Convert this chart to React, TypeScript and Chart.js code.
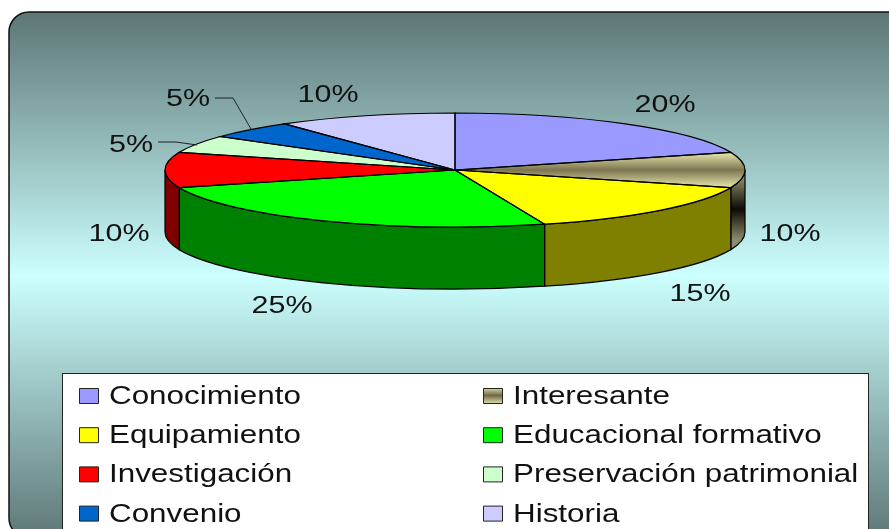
import React, { useEffect, useRef } from "react";
import { Chart, registerables } from "chart.js";

Chart.register(...registerables);

const categories = [
  "Conocimiento",
  "Interesante",
  "Equipamiento",
  "Educacional formativo",
  "Investigación",
  "Preservación patrimonial",
  "Convenio",
  "Historia",
];
const percentages = [20, 10, 15, 25, 10, 5, 5, 10];
const topColors = ["#9999ff", "#a8a070", "#ffff00", "#00ff00", "#ff0000", "#ccffcc", "#0066cc", "#ccccff"];
const sideColors = ["#4d4d80", "#808060", "#808000", "#008000", "#800000", "#668066", "#003366", "#666680"];
// order in which the legend is read: left column then right column, row by row
const legendRows = [
  [0, 1],
  [2, 3],
  [4, 5],
  [6, 7],
];

const W = 889;
const H = 529;
const PIE = { cx: 455, cy: 170, rx: 290, ry: 57, depth: 62 };
const LABEL_STRETCH = 1.27;
const LEGEND_STRETCH = 1.255;
const FONT = '"Liberation Sans", Arial, sans-serif';

// centre of each percentage label on the page, one per slice
const labelCentres = [
  [665, 105],
  [790, 234],
  [700, 294],
  [282, 306],
  [119, 234],
  [131, 145],
  [188, 99],
  [328, 95],
];
const leaders: Record<number, number[][]> = {
  5: [[158, 142], [176, 142], [197, 145]],
  6: [[215, 98], [233, 98], [251, 129]],
};

function stretchedText(ctx: CanvasRenderingContext2D, text: string, x: number, y: number, size: number, stretch: number, align: CanvasTextAlign, baseline: CanvasTextBaseline) {
  ctx.save();
  ctx.translate(x, y);
  ctx.scale(stretch, 1);
  ctx.font = `${size}px ${FONT}`;
  ctx.fillStyle = "#111111";
  ctx.textAlign = align;
  ctx.textBaseline = baseline;
  ctx.fillText(text, 0, 0);
  ctx.restore();
}

function bandGradient(ctx: CanvasRenderingContext2D, y0: number, y1: number, edge: string, mid: string) {
  const g = ctx.createLinearGradient(0, y0, 0, y1);
  g.addColorStop(0, edge);
  g.addColorStop(0.5, mid);
  g.addColorStop(1, edge);
  return g;
}

const pie3d = {
  id: "pie3d",
  beforeDraw(chart: any) {
    const ctx: CanvasRenderingContext2D = chart.ctx;
    ctx.save();
    const g = ctx.createLinearGradient(0, 12, 0, 540);
    g.addColorStop(0, "#5d7675");
    g.addColorStop(0.5, "#ccffff");
    g.addColorStop(1, "#5d7675");
    ctx.beginPath();
    ctx.roundRect(9, 12, 900, 526, 20);
    ctx.fillStyle = g;
    ctx.fill();
    ctx.strokeStyle = "#111111";
    ctx.lineWidth = 1.5;
    ctx.stroke();
    ctx.restore();
  },
  beforeDatasetDraw(chart: any) {
    const ctx: CanvasRenderingContext2D = chart.ctx;
    const arcs = chart.getDatasetMeta(0).data;
    const { rx, ry, depth } = PIE;
    const { x: cx, y: cy, outerRadius: r } = arcs[0];
    // side walls, only the front half of the ellipse shows them
    ctx.save();
    ctx.lineWidth = 1.2;
    ctx.strokeStyle = "#000000";
    arcs.forEach((arc: any, i: number) => {
      const a = Math.max(arc.startAngle, 0);
      const b = Math.min(arc.endAngle, Math.PI);
      if (b <= a) return;
      ctx.beginPath();
      ctx.ellipse(cx, cy, rx, ry, 0, a, b);
      ctx.ellipse(cx, cy + depth, rx, ry, 0, b, a, true);
      ctx.closePath();
      ctx.fillStyle = i === 1 ? bandGradient(ctx, cy + 8, cy + depth + 8, "#8c8c6c", "#0c0a04") : sideColors[i];
      ctx.fill();
      ctx.stroke();
    });
    ctx.restore();
    // the library's arcs are flattened onto the ellipse
    ctx.save();
    ctx.translate(cx, cy);
    ctx.scale(rx / r, ry / r);
    ctx.translate(-cx, -cy);
  },
  afterDatasetDraw(chart: any) {
    const ctx: CanvasRenderingContext2D = chart.ctx;
    ctx.restore();
    const arcs = chart.getDatasetMeta(0).data;
    const { rx, ry } = PIE;
    ctx.save();
    ctx.lineWidth = 1.2;
    ctx.strokeStyle = "#000000";
    arcs.forEach((arc: any) => {
      ctx.beginPath();
      ctx.moveTo(arc.x, arc.y);
      ctx.ellipse(arc.x, arc.y, rx, ry, 0, arc.startAngle, arc.endAngle);
      ctx.closePath();
      ctx.stroke();
    });
    ctx.restore();
  },
  afterDraw(chart: any) {
    const ctx: CanvasRenderingContext2D = chart.ctx;
    // percentage labels and leader lines
    percentages.forEach((v, i) => {
      const [x, y] = labelCentres[i];
      stretchedText(ctx, `${v}%`, x, y, 24, LABEL_STRETCH, "center", "middle");
    });
    ctx.save();
    ctx.strokeStyle = "#222222";
    ctx.lineWidth = 1;
    Object.values(leaders).forEach((pts) => {
      ctx.beginPath();
      pts.forEach(([x, y], k) => (k ? ctx.lineTo(x, y) : ctx.moveTo(x, y)));
      ctx.stroke();
    });
    // legend box
    ctx.fillStyle = "#ffffff";
    ctx.fillRect(62, 373.5, 807, 170);
    ctx.strokeStyle = "#222222";
    ctx.lineWidth = 1;
    ctx.strokeRect(62.5, 373.5, 806, 170);
    const columns = [
      { box: 79, text: 109 },
      { box: 483, text: 513 },
    ];
    legendRows.forEach((row, r) => {
      const top = 388 + r * 39.2;
      row.forEach((idx, c) => {
        const col = columns[c];
        ctx.beginPath();
        ctx.rect(col.box + 0.5, top + 0.5, 19, 15);
        ctx.fillStyle = idx === 1 ? bandGradient(ctx, top, top + 15, "#d8d8a0", "#70684a") : topColors[idx];
        ctx.fill();
        ctx.strokeStyle = "#222222";
        ctx.stroke();
        stretchedText(ctx, categories[idx], col.text, top + 16, 25, LEGEND_STRETCH, "left", "alphabetic");
      });
    });
    ctx.restore();
  },
};

export default function App() {
  const ref = useRef<HTMLCanvasElement>(null);
  useEffect(() => {
    document.body.style.margin = "0";
    const canvas = ref.current!;
    const chart = new Chart(canvas, {
      type: "pie",
      data: {
        labels: categories,
        datasets: [
          {
            data: percentages,
            borderWidth: 0,
            clip: false,
            backgroundColor: (c: any) => {
              const i = c.dataIndex;
              if (i === 1) {
                const d = (18 * 170) / PIE.ry;
                return bandGradient(c.chart.ctx, PIE.cy - d, PIE.cy + d, "#ececb0", "#7c7450");
              }
              return topColors[i];
            },
          } as any,
        ],
      },
      options: {
        animation: false,
        responsive: false,
        devicePixelRatio: 1,
        layout: { padding: { left: 2 * PIE.cx - W, right: 0, top: 0, bottom: H - 2 * PIE.cy } },
        plugins: { legend: { display: false }, tooltip: { enabled: false } },
      },
      plugins: [pie3d],
    });
    return () => chart.destroy();
  }, []);
  return (
    <div style={{ position: "absolute", left: 0, top: 0, width: W, height: H, overflow: "hidden", background: "#ffffff" }}>
      <canvas ref={ref} width={W} height={H} style={{ display: "block", width: W, height: H }} />
    </div>
  );
}
